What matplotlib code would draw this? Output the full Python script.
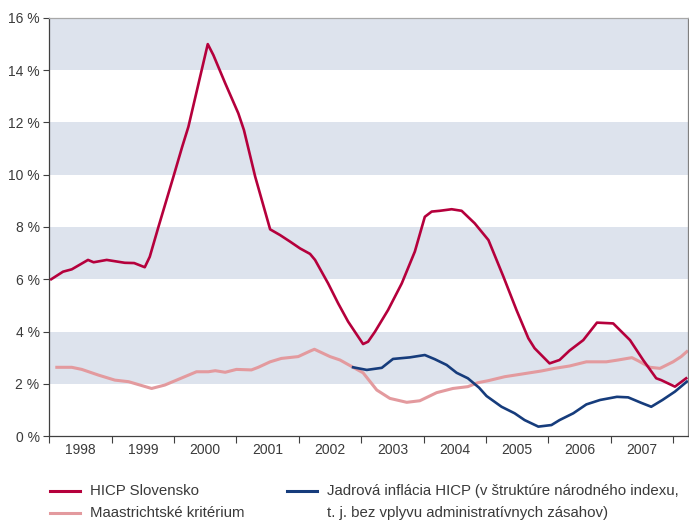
import matplotlib.pyplot as plt
from matplotlib.lines import Line2D

plt.rcParams['font.family'] = ['Liberation Sans', 'DejaVu Sans']

# HICP Slovensko (medziročná zmena, %)
hicp_t = [1998.03, 1998.22, 1998.36, 1998.62, 1998.71, 1998.92, 1999.21, 1999.36, 1999.53,
          1999.61, 1999.75, 1999.99, 2000.13, 2000.23, 2000.54, 2000.63, 2000.82, 2001.03,
          2001.12, 2001.30, 2001.54, 2001.70, 2001.86, 2002.02, 2002.18, 2002.26, 2002.47,
          2002.63, 2002.79, 2003.03, 2003.11, 2003.22, 2003.43, 2003.65, 2003.86, 2004.02,
          2004.13, 2004.26, 2004.45, 2004.61, 2004.82, 2005.04, 2005.28, 2005.49, 2005.68,
          2005.78, 2006.02, 2006.18, 2006.34, 2006.56, 2006.78, 2007.04, 2007.31, 2007.52,
          2007.73, 2007.81, 2008.03, 2008.21]
hicp = [6.00, 6.29, 6.38, 6.74, 6.65, 6.74, 6.63, 6.62, 6.46,
        6.86, 8.01, 9.93, 11.07, 11.84, 15.00, 14.58, 13.50, 12.35,
        11.71, 9.93, 7.91, 7.69, 7.44, 7.18, 6.97, 6.74, 5.84,
        5.08, 4.38, 3.52, 3.61, 3.99, 4.82, 5.84, 7.06, 8.39,
        8.59, 8.62, 8.68, 8.62, 8.14, 7.50, 6.10, 4.82, 3.74,
        3.36, 2.78, 2.91, 3.27, 3.67, 4.34, 4.31, 3.67, 2.91,
        2.21, 2.14, 1.89, 2.21]

# Maastrichtské kritérium
maast_t = [1998.12, 1998.36, 1998.52, 1998.79, 1999.05, 1999.27, 1999.64, 1999.85, 2000.17,
           2000.36, 2000.55, 2000.66, 2000.82, 2001.00, 2001.24, 2001.35, 2001.54, 2001.72,
           2001.99, 2002.18, 2002.25, 2002.50, 2002.66, 2002.87, 2003.03, 2003.25, 2003.46,
           2003.73, 2003.94, 2004.21, 2004.47, 2004.71, 2004.87, 2005.04, 2005.30, 2005.57,
           2005.89, 2006.10, 2006.34, 2006.61, 2006.93, 2007.12, 2007.34, 2007.44, 2007.63,
           2007.79, 2008.00, 2008.13, 2008.22]
maast = [2.63, 2.63, 2.55, 2.33, 2.14, 2.08, 1.82, 1.95, 2.27,
         2.46, 2.46, 2.50, 2.44, 2.55, 2.53, 2.63, 2.84, 2.97,
         3.04, 3.25, 3.32, 3.04, 2.91, 2.63, 2.42, 1.76, 1.44,
         1.29, 1.35, 1.66, 1.82, 1.89, 2.04, 2.12, 2.27, 2.37,
         2.49, 2.59, 2.68, 2.84, 2.84, 2.91, 3.00, 2.88, 2.63,
         2.59, 2.84, 3.04, 3.23]

# Jadrová inflácia HICP
core_t = [2002.87, 2003.09, 2003.33, 2003.51, 2003.78, 2004.02, 2004.18, 2004.37, 2004.53,
          2004.71, 2004.89, 2005.01, 2005.25, 2005.46, 2005.62, 2005.84, 2006.05, 2006.18,
          2006.40, 2006.61, 2006.83, 2007.10, 2007.28, 2007.49, 2007.65, 2007.83, 2008.03,
          2008.22]
core = [2.63, 2.53, 2.61, 2.95, 3.01, 3.10, 2.94, 2.72, 2.42,
        2.21, 1.85, 1.53, 1.12, 0.87, 0.61, 0.36, 0.42, 0.61,
        0.87, 1.21, 1.38, 1.50, 1.48, 1.27, 1.12, 1.38, 1.70,
        2.08]

years = list(range(1998, 2008))
y_ticks = list(range(0, 17, 2))

RED = '#b5003c'
PINK = '#e39a9e'
NAVY = '#163c7c'
BAND = '#dde3ed'
TXT = '#3a3a3a'

fig = plt.figure(figsize=(6.89, 5.21), dpi=100)
ax = fig.add_axes([0.0716, 0.1631, 0.927, 0.8024])

# pruhy v pozadí
for lo in range(2, 16, 4):
    ax.axhspan(lo, lo + 2, color=BAND, lw=0, zorder=0)

ax.plot(maast_t, maast, color=PINK, lw=2.2, zorder=2)
ax.plot(core_t, core, color=NAVY, lw=1.9, zorder=3)
ax.plot(hicp_t, hicp, color=RED, lw=1.9, zorder=4)

ax.set_xlim(1998, 2008.24)
ax.set_ylim(0, 16)

ax.set_yticks(y_ticks)
ax.set_yticklabels([f'{v} %' for v in y_ticks])
ax.set_xticks(list(range(1998, 2009)))
ax.set_xticklabels([])
ax.set_xticks([y + 0.5 for y in years], minor=True)
ax.set_xticklabels([str(y) for y in years], minor=True)

ax.tick_params(axis='y', direction='out', length=4, width=0.8, color='#404040',
               labelsize=10, labelcolor=TXT, pad=3)
ax.tick_params(axis='x', which='major', direction='out', length=5, width=0.8, color='#404040')
ax.tick_params(axis='x', which='minor', length=0, labelsize=10, labelcolor=TXT, pad=5)

for s in ['left', 'bottom']:
    ax.spines[s].set_color('#404040')
    ax.spines[s].set_linewidth(0.9)
ax.spines['top'].set_color('#a8a8a8')
ax.spines['top'].set_linewidth(0.9)
ax.spines['right'].set_color('#808080')
ax.spines['right'].set_linewidth(0.9)

# legenda pod grafom
W, H = 689, 521
def fx(px):
    return px / W
def fy(py):
    return 1 - py / H

leg = [(50, 491, RED, 'HICP Slovensko'),
       (50, 513, PINK, 'Maastrichtské kritérium'),
       (287, 491, NAVY, 'Jadrová inflácia HICP (v štruktúre národného indexu,')]
for x0, y0, c, label in leg:
    fig.add_artist(Line2D([fx(x0), fx(x0 + 30)], [fy(y0), fy(y0)], color=c, lw=2.2))
    fig.text(fx(x0 + 40), fy(y0), label, fontsize=10.8, color=TXT, va='center', ha='left')
fig.text(fx(327), fy(513), 't. j. bez vplyvu administratívnych zásahov)', fontsize=10.8,
         color=TXT, va='center', ha='left')

fig.savefig('out.png', dpi=100)
